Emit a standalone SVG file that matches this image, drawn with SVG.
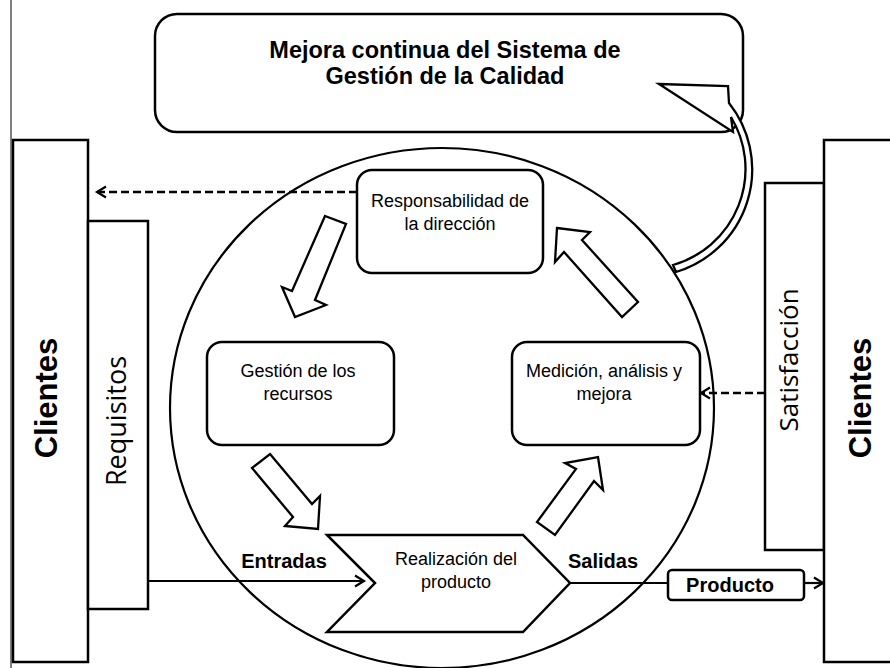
<svg xmlns="http://www.w3.org/2000/svg" width="890" height="668" viewBox="0 0 890 668">
<style>
.box{fill:#fff;stroke:#000;stroke-width:2.5}
.thin{fill:none;stroke:#000;stroke-width:2.2}
.blk{fill:#fff;stroke:#000;stroke-width:2.3;stroke-linejoin:miter}
.t{font-family:"Liberation Sans",Arial,sans-serif;font-size:18px;fill:#000;text-anchor:middle}
.b{font-family:"Liberation Sans",Arial,sans-serif;font-weight:bold;fill:#000;text-anchor:middle}
.c{font-family:"Open Sans","Noto Sans",sans-serif;fill:#000;text-anchor:middle}
.dash{fill:none;stroke:#000;stroke-width:2.3;stroke-dasharray:8 4}
</style>
<defs>
<marker id="open" markerUnits="userSpaceOnUse" markerWidth="14" markerHeight="14" refX="11" refY="7" orient="auto">
<path d="M2,1.5 L11,7 L2,12.5" fill="none" stroke="#000" stroke-width="2.2"/>
</marker>
</defs>
<rect width="890" height="668" fill="#fff"/>
<line x1="11" y1="0" x2="11" y2="668" stroke="#000" stroke-width="1"/>

<g id="clientes-izq">
<rect class="box" x="13" y="140" width="75" height="522"/>
<text class="b" font-size="31" transform="translate(57,398) rotate(-90)">Clientes</text>
</g>
<g id="requisitos">
<rect class="box" x="88" y="221" width="60" height="388"/>
<text class="c" font-size="27" transform="translate(126,421) rotate(-90)">Requisitos</text>
</g>
<g id="satisfaccion">
<rect class="box" x="765" y="183" width="59" height="367"/>
<text class="c" font-size="26" transform="translate(798,360) rotate(-90)">Satisfacción</text>
</g>
<g id="clientes-der">
<rect class="box" x="824" y="140" width="80" height="522"/>
<text class="b" font-size="31" transform="translate(871,398) rotate(-90)">Clientes</text>
</g>

<g id="mejora">
<rect class="box" x="155" y="14" width="588" height="118" rx="22"/>
<text class="b" font-size="23.5" x="445" y="58">Mejora continua del Sistema de</text>
<text class="b" font-size="23.5" x="445" y="84">Gestión de la Calidad</text>
</g>

<g id="ciclo">
<ellipse cx="442" cy="408" rx="272" ry="260" fill="none" stroke="#000" stroke-width="2.2"/>
</g>

<g id="connectors">
<line class="dash" x1="357" y1="192" x2="97" y2="192" marker-end="url(#open)"/>
<line class="dash" x1="765" y1="393" x2="701" y2="393" marker-end="url(#open)"/>
<line class="thin" x1="148" y1="581" x2="364" y2="581" marker-end="url(#open)"/>
<line class="thin" x1="570" y1="583" x2="668" y2="583"/>
<line class="thin" x1="804" y1="583" x2="823" y2="583" marker-end="url(#open)"/>
<path class="blk" d="M325,216 L346,224 L315,300 L326,305 L295,317 L282,287 L292,291 Z"/>
<path class="blk" d="M557,228 L590,232 L582,240 L638,302 L622,317 L564,252 L555,262 Z"/>
<path class="blk" d="M270,454 L312,504 L320,496 L318,529 L285,526 L293,517 L252,468 Z"/>
<path class="blk" d="M598,457 L603,490 L594,481 L555,535 L537,522 L576,469 L565,463 Z"/>
<path class="blk" d="M659,84 L728,86 L729,103 A107,107 0 0 1 676,272 L673,265 A100,100 0 0 0 731,117 L733,132 Z"/>
</g>

<g id="responsabilidad">
<rect class="box" x="357" y="170" width="186" height="103" rx="15"/>
<text class="t" x="450" y="207">Responsabilidad de</text>
<text class="t" x="450" y="230">la dirección</text>
</g>
<g id="gestion">
<rect class="box" x="207" y="342" width="187" height="103" rx="15"/>
<text class="t" x="298" y="377">Gestión de los</text>
<text class="t" x="298" y="400">recursos</text>
</g>
<g id="medicion">
<rect class="box" x="512" y="342" width="188" height="103" rx="15"/>
<text class="t" x="604" y="377">Medición, análisis y</text>
<text class="t" x="604" y="400">mejora</text>
</g>
<g id="realizacion">
<path class="box" d="M327,535 L523,535 L570,583 L523,632 L327,632 L375,583 Z"/>
<text class="t" x="456" y="565">Realización del</text>
<text class="t" x="456" y="588">producto</text>
</g>
<g id="producto">
<rect class="box" x="668" y="570" width="136" height="30" rx="4"/>
<text class="b" font-size="20" x="730" y="592">Producto</text>
</g>
<g id="etiquetas">
<text class="b" font-size="20" x="284" y="568">Entradas</text>
<text class="b" font-size="20" x="603" y="568">Salidas</text>
</g>
</svg>
